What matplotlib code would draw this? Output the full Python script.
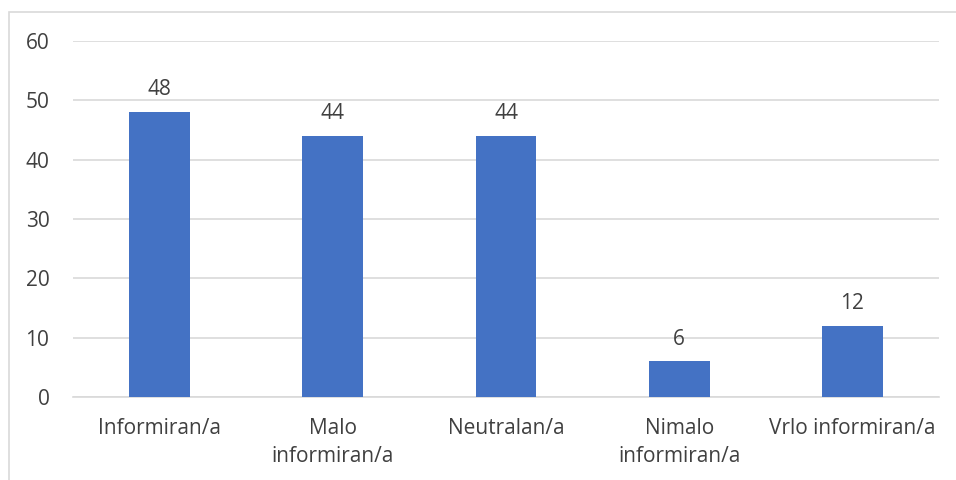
import matplotlib.pyplot as plt
import numpy as np

categories = ['Informiran/a', 'Malo\ninformiran/a', 'Neutralan/a', 'Nimalo\ninformiran/a', 'Vrlo informiran/a']
values = [48, 44, 44, 6, 12]
yticks = [0, 10, 20, 30, 40, 50, 60]

plt.rcParams['font.family'] = ['Open Sans', 'DejaVu Sans']

fig = plt.figure(figsize=(9.56, 4.8), dpi=100)
ax = fig.add_axes([0.0764, 0.1729, 0.9058, 0.7417])

x = np.arange(len(categories))
ax.bar(x, values, width=0.352, color='#4472C4', zorder=3)
for xi, v in zip(x, values):
    ax.text(xi, v + 2.0, str(v), ha='center', va='bottom', fontsize=15, color='#404040')

ax.set_xlim(-0.5, len(categories) - 0.5)
ax.set_ylim(0, 60)
ax.set_yticks(yticks)
ax.set_xticks(x)
ax.set_xticklabels(categories, fontsize=15, color='#404040', linespacing=1.45)
ax.tick_params(axis='y', labelsize=15, labelcolor='#404040', length=0, pad=17)
ax.tick_params(axis='x', length=0, pad=15)
ax.grid(axis='y', color='#D9D9D9', linewidth=1.2, zorder=0)
for s in ['top', 'right', 'left']:
    ax.spines[s].set_visible(False)
ax.spines['bottom'].set_color('#D9D9D9')
ax.spines['bottom'].set_linewidth(1.2)

# chart border (right and bottom edges fall outside the image)
fig.patches.append(plt.Rectangle((9 / 956, -0.05), 1.1, 1 - 12 / 480 + 0.05, transform=fig.transFigure,
                                 fill=False, edgecolor='#D9D9D9', linewidth=1.2))

fig.savefig('out.png', dpi=100)
